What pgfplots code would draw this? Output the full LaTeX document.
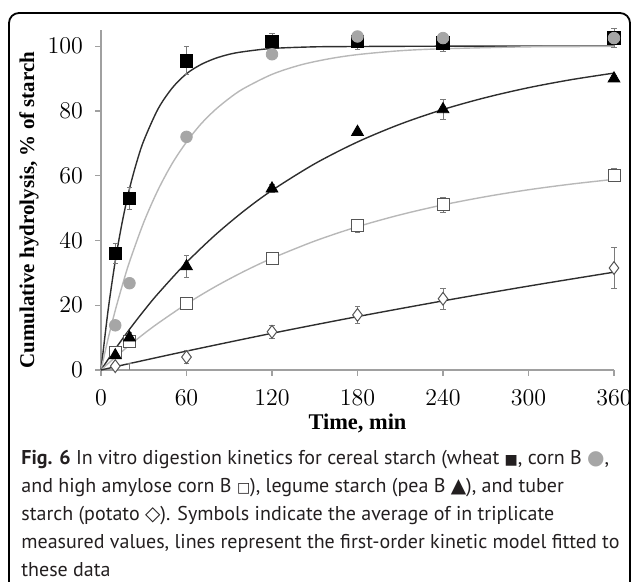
\documentclass[border=0pt]{standalone}
\usepackage{fontspec}
\setmainfont{Liberation Serif}
\newfontfamily\capfont{PT Sans}
\newfontfamily\symfont{DejaVu Sans}
\usepackage{pgfplots}
\pgfplotsset{compat=1.18}
\usepackage{pgfplotstable}

\definecolor{axgray}{HTML}{A0A0A0}
\definecolor{lgray}{HTML}{B8B8B8}
\definecolor{dgray}{HTML}{2E2E2E}
\definecolor{cgray}{HTML}{A6A6A6}
\definecolor{ebgray}{HTML}{7A7A7A}
\definecolor{mgray}{HTML}{555555}
\definecolor{captxt}{HTML}{231F20}

% measured data: time, mean, error
\pgfplotstableread{
t y e
10 36 3
20 53 3.5
60 95.5 4.3
120 101.5 2.5
180 101.5 2.5
240 101 2.5
360 102.5 3
}\wheat
\pgfplotstableread{
t y e
10 13.8 0.5
20 26.8 0.8
60 72 1.5
120 97.5 1.5
180 103 1.5
240 102.5 1.5
360 102.5 1.5
}\corn
\pgfplotstableread{
t y e
10 4.5 0.8
20 10 1.5
60 32 3.5
120 56 1.2
180 73.5 1
240 80.5 3
360 90 1
}\pea
\pgfplotstableread{
t y e
10 5.3 0.5
20 8.8 1
60 20.5 1
120 34.5 1
180 44.5 2
240 51 2.3
360 60.2 2
}\amylose
\pgfplotstableread{
t y e
10 1.2 0.5
60 4 2
120 11.8 2
180 17 2.5
240 22 3.2
360 31.5 6.3
}\potato

\begin{document}
\begin{tikzpicture}
\begin{axis}[
  at={(50.5pt,106pt)}, anchor=south west,
  scale only axis, width=256.5pt, height=170pt,
  xmin=0, xmax=360, ymin=0, ymax=105,
  axis lines*=left,
  axis line style={axgray, line width=0.6pt},
  xtick={0,60,...,360}, ytick={0,20,...,100},
  tick style={axgray, line width=0.6pt},
  tick align=outside, major tick length=3pt,
  tick label style={font=\fontsize{11.8}{13}\selectfont},
  xticklabel style={yshift=-3.5pt},
  yticklabel style={xshift=-2.5pt},
  xlabel={\textbf{Time, min}},
  ylabel={\textbf{Cumulative hydrolysis, \% of starch}},
  xlabel style={font=\fontsize{11.2}{13}\selectfont, at={(axis description cs:0.5,-0.156)}, anchor=center},
  ylabel style={font=\fontsize{10.5}{13}\selectfont, at={(axis description cs:-0.1404,0.47)}, anchor=center},
  clip=false,
  error bars/error bar style={ebgray, line width=0.4pt},
  error bars/error mark options={rotate=90, mark size=1.3pt, ebgray, line width=0.4pt},
]
% fitted first-order curves
\addplot[dgray, line width=0.7pt, smooth] coordinates {
(0,0) (5,18.5) (10,33.6) (15,45.9) (20,56.0) (25,64.1) (30,70.8) (40,80.6) (50,87.1) (60,91.5) (70,94.3) (80,96.2) (90,97.5) (100,98.3) (120,99.3) (150,99.8) (180,99.9) (240,100) (300,100) (360,100)};
\addplot[lgray, line width=0.7pt, smooth] coordinates {
(0,0) (5,9.7) (10,18.4) (15,26.2) (20,33.4) (30,45.6) (40,55.6) (50,63.8) (60,70.4) (70,75.9) (80,80.3) (90,83.9) (100,86.9) (120,91.3) (140,94.2) (160,96.1) (180,97.4) (210,98.6) (240,99.2) (300,99.8) (360,99.9)};
\addplot[dgray, line width=0.7pt, smooth] coordinates {
(0,0) (10,6.49) (20,12.56) (30,18.25) (40,23.57) (60,33.2) (80,41.63) (100,49.01) (120,55.47) (150,63.69) (180,70.42) (210,75.93) (240,80.45) (270,84.14) (300,87.18) (330,89.66) (360,91.69)};
\addplot[lgray, line width=0.7pt, smooth] coordinates {
(0,0) (10,3.94) (20,7.65) (30,11.14) (40,14.42) (60,20.4) (80,25.69) (100,30.37) (120,34.5) (150,39.82) (180,44.25) (210,47.93) (240,50.99) (270,53.53) (300,55.66) (330,57.41) (360,58.88)};
\addplot[dgray, line width=0.7pt, smooth] coordinates {
(0,0) (10,1.0) (20,1.99) (60,5.83) (120,11.33) (180,16.49) (240,21.34) (300,25.91) (360,30.21)};
% measured points
\addplot[only marks, mark=diamond*, mark size=3.2pt, mark options={fill=white, draw=mgray, line width=0.5pt},
  error bars/.cd, y dir=both, y explicit] table[x=t, y=y, y error=e] {\potato};
\addplot[draw=none, mark=none, forget plot, error bars/.cd, y dir=plus, y explicit] coordinates {(20,0) +- (0,2)};
\addplot[only marks, mark=square*, mark size=3pt, mark options={fill=white, draw=mgray, line width=0.5pt},
  error bars/.cd, y dir=both, y explicit] table[x=t, y=y, y error=e] {\amylose};
\addplot[only marks, mark=triangle*, mark size=3.4pt, mark options={fill=black, draw=black},
  error bars/.cd, y dir=both, y explicit] table[x=t, y=y, y error=e] {\pea};
\addplot[only marks, mark=square*, mark size=3.1pt, mark options={fill=black, draw=black},
  error bars/.cd, y dir=both, y explicit] table[x=t, y=y, y error=e] {\wheat};
\addplot[only marks, mark=*, mark size=2.9pt, mark options={fill=cgray, draw=cgray},
  error bars/.cd, y dir=both, y explicit] table[x=t, y=y, y error=e] {\corn};
\end{axis}
% frame
\draw[line width=0.9pt, rounded corners=5pt, black] (4.5pt,-10pt) -- (4.5pt,284.5pt) -- (315pt,284.5pt) -- (315pt,-10pt);
% caption (base anchor = baseline of last line)
\node[anchor=base west, align=left, inner sep=0pt, text=captxt,
  font=\capfont\fontsize{10}{13.9}\selectfont] at (10.5pt,2.9pt)
{\textbf{Fig. 6} In vitro digestion kinetics for cereal starch (wheat {\symfont\fontsize{7}{7}\selectfont ■}, corn B {\symfont\color{cgray}●},\\
and high amylose corn B {\symfont\fontsize{7}{7}\selectfont □}), legume starch (pea B {\symfont ▲}), and tuber\\
starch (potato {\symfont ◇}). Symbols indicate the average of in triplicate\\
measured values, lines represent the first-order kinetic model fitted to\\
these data};
\pgfresetboundingbox
\path (0,0) rectangle (316pt,291pt);
\end{tikzpicture}
\end{document}
